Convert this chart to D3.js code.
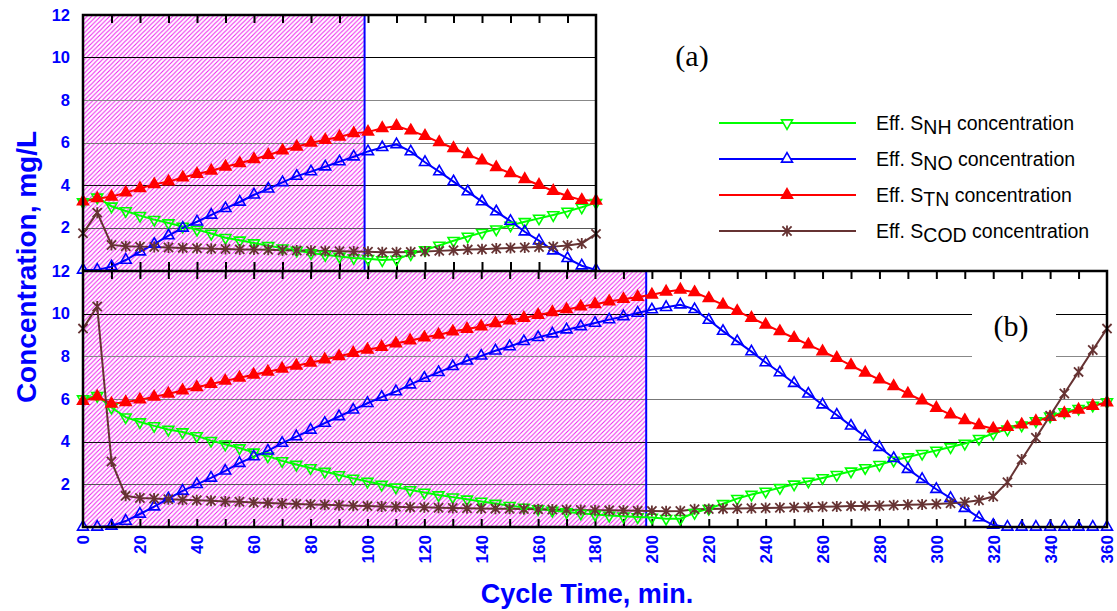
<!DOCTYPE html>
<html><head><meta charset="utf-8">
<script src="https://cdn.jsdelivr.net/npm/d3@7"></script>
<style>
html,body{margin:0;padding:0;background:#fff;}
svg{display:block;}
</style></head>
<body>
<svg id="chart" width="1117" height="611"></svg>
<script>
// ---------- DATA ----------
const timeA = [0,5,10,15,20,25,30,35,40,45,50,55,60,65,70,75,80,85,90,95,100,105,110,115,120,125,130,135,140,145,150,155,160,165,170,175,180];
const snhA = [3.2,3.42,3.0,2.78,2.56,2.37,2.21,2.05,1.9,1.72,1.52,1.4,1.27,1.14,1.03,0.92,0.8,0.72,0.64,0.57,0.53,0.47,0.5,0.75,0.94,1.16,1.38,1.58,1.76,1.92,2.1,2.27,2.43,2.59,2.76,2.95,3.17];
const snoA = [0,0,0.16,0.47,0.86,1.22,1.62,1.98,2.27,2.59,2.9,3.2,3.54,3.82,4.12,4.42,4.63,4.86,5.1,5.33,5.58,5.77,5.91,5.57,5.07,4.63,4.16,3.69,3.22,2.75,2.3,1.8,1.38,0.91,0.55,0.2,0];
const stnA = [3.22,3.37,3.45,3.64,3.84,4.03,4.16,4.35,4.52,4.67,4.86,5.02,5.21,5.41,5.62,5.8,5.99,6.12,6.27,6.43,6.5,6.67,6.78,6.56,6.31,6.01,5.73,5.44,5.15,4.83,4.55,4.27,4.0,3.72,3.48,3.29,3.26];
const scodA = [1.73,2.7,1.18,1.12,1.1,1.08,1.06,1.04,1.02,1.0,0.99,0.97,0.96,0.95,0.93,0.92,0.91,0.9,0.88,0.87,0.86,0.84,0.83,0.85,0.87,0.9,0.93,0.96,0.98,1.01,1.04,1.06,1.08,1.1,1.15,1.25,1.7];

const timeB = [0,5,10,15,20,25,30,35,40,45,50,55,60,65,70,75,80,85,90,95,100,105,110,115,120,125,130,135,140,145,150,155,160,165,170,175,180,185,190,195,200,205,210,215,220,225,230,235,240,245,250,255,260,265,270,275,280,285,290,295,300,305,310,315,320,325,330,335,340,345,350,355,360];
const snhB = [6.0,6.15,5.6,5.15,4.92,4.74,4.57,4.45,4.27,4.05,3.88,3.7,3.5,3.32,3.1,2.93,2.77,2.6,2.44,2.28,2.13,1.99,1.86,1.74,1.62,1.5,1.4,1.3,1.2,1.1,1.0,0.92,0.84,0.77,0.7,0.64,0.59,0.54,0.5,0.47,0.45,0.39,0.39,0.67,0.86,1.09,1.33,1.52,1.67,1.84,2.0,2.14,2.3,2.45,2.61,2.77,2.92,3.12,3.28,3.44,3.59,3.75,3.91,4.14,4.38,4.58,4.77,4.97,5.19,5.39,5.55,5.7,5.86];
const snoB = [0,0,0.05,0.28,0.61,0.95,1.33,1.69,2.0,2.3,2.63,2.99,3.3,3.57,3.93,4.24,4.55,4.87,5.18,5.49,5.8,6.09,6.35,6.67,6.98,7.25,7.53,7.79,8.02,8.26,8.46,8.7,8.89,9.06,9.25,9.4,9.56,9.72,9.87,10.03,10.19,10.3,10.42,10.2,9.7,9.18,8.7,8.22,7.71,7.24,6.74,6.24,5.73,5.25,4.74,4.24,3.74,3.22,2.71,2.24,1.77,1.35,0.88,0.44,0.09,0,0,0,0,0,0,0,0];
const stnB = [5.9,6.12,5.78,5.85,5.97,6.1,6.25,6.4,6.55,6.7,6.85,7.0,7.14,7.28,7.42,7.56,7.7,7.85,8.0,8.16,8.31,8.44,8.6,8.74,8.88,9.01,9.16,9.28,9.4,9.55,9.68,9.8,9.94,10.07,10.2,10.33,10.44,10.57,10.68,10.78,10.89,11.03,11.12,11.0,10.72,10.42,10.12,9.8,9.48,9.17,8.86,8.55,8.23,7.92,7.58,7.23,6.91,6.6,6.25,5.93,5.58,5.27,5.0,4.77,4.61,4.68,4.8,4.96,5.15,5.33,5.5,5.67,5.84];
const scodB = [9.3,10.34,3.07,1.46,1.36,1.34,1.3,1.28,1.25,1.23,1.2,1.18,1.15,1.13,1.1,1.08,1.06,1.04,1.02,1.0,0.98,0.96,0.95,0.93,0.92,0.9,0.89,0.88,0.87,0.86,0.85,0.84,0.83,0.82,0.81,0.8,0.79,0.78,0.77,0.76,0.75,0.74,0.75,0.83,0.84,0.86,0.87,0.88,0.89,0.9,0.92,0.93,0.95,0.96,0.98,0.99,1.0,1.02,1.04,1.06,1.08,1.11,1.16,1.25,1.43,2.1,3.16,4.18,5.22,6.26,7.27,8.3,9.3];

const yTicks = [2,4,6,8,10,12];
const xTickLabels = [0,20,40,60,80,100,120,140,160,180,200,220,240,260,280,300,320,340,360];
const aerobicEndA = 98.8;   // end of hatched phase (a)
const aerobicEndB = 198;    // end of hatched phase (b)

const seriesNames = ["SNH","SNO","STN","SCOD"];
const seriesSub = ["NH","NO","TN","COD"];
const seriesColors = ["#00ff00","#0000ff","#ff0000","#663333"];
const seriesMarkers = ["down","up","upfill","star"];

// ---------- DRAW ----------
const svg = d3.select("#chart");
const defs = svg.append("defs");
const pat = defs.append("pattern").attr("id","hatch").attr("patternUnits","userSpaceOnUse")
  .attr("width",4.5).attr("height",4.5);
pat.append("rect").attr("width",4.5).attr("height",4.5).attr("fill","#fff");
pat.append("path").attr("d","M0,4.5L4.5,0M-1,1L1,-1M3.5,5.5L5.5,3.5")
  .attr("stroke","#f020f0").attr("stroke-width",1.05);

svg.append("rect").attr("width",1117).attr("height",611).attr("fill","#fff");

const L = 83;
const xA = d3.scaleLinear().domain([0,180]).range([L,596]);
const yA = d3.scaleLinear().domain([0,12]).range([270,15]);
const xB = d3.scaleLinear().domain([0,360]).range([L,1107]);
const yB = d3.scaleLinear().domain([0,12]).range([527,271]);

const gridColor = {2:"#555",4:"#111",6:"#777",8:"#888",10:"#000"};

function symbolPath(type){
  if(type==="star") return "M0,-5.5V5.5M-4.6,-4.6L4.6,4.6M-4.6,4.6L4.6,-4.6";
  return d3.symbol().type(d3.symbolTriangle).size(52)();
}
function drawMarker(g, type, color, x, y, legend){
  const p = g.append("path").attr("d", symbolPath(type))
    .attr("transform", `translate(${x},${y})` + (type==="down" ? " rotate(180)" : ""))
    .attr("stroke", color).attr("stroke-width", type==="star"?1.8:1.6);
  if(type==="upfill") p.attr("fill", color);
  else if(type==="star") p.attr("fill","none");
  else p.attr("fill", legend ? "#fff" : "none");
}

function panel(x, y, times, data, endPhase, box){
  const g = svg.append("g");
  const [x0,x1] = x.range(); const [y0,y1] = [y(0), y(12)];
  g.append("rect").attr("x",x0).attr("y",y1).attr("width",x1-x0).attr("height",y0-y1).attr("fill","#fff");
  g.append("rect").attr("x",x0).attr("y",y1).attr("width",x(endPhase)-x0).attr("height",y0-y1).attr("fill","url(#hatch)");
  [2,4,6,8,10].forEach(v=>{
    g.append("line").attr("x1",x0).attr("x2",x1).attr("y1",Math.round(y(v))+0.5).attr("y2",Math.round(y(v))+0.5)
      .attr("stroke",gridColor[v]).attr("stroke-width",1.2);
  });
  if(box){
    g.append("rect").attr("x",box[0]).attr("y",box[1]).attr("width",box[2]).attr("height",box[3]).attr("fill","#fff");
  }
  g.append("line").attr("x1",x(endPhase)).attr("x2",x(endPhase)).attr("y1",y1).attr("y2",y0)
    .attr("stroke","#0000ff").attr("stroke-width",2);
  const tv = d3.range(10, x.domain()[1], 10);
  g.append("g").attr("transform",`translate(0,${y1})`)
    .call(d3.axisTop(x).tickValues(tv).tickSize(-8).tickFormat(""))
    .call(a=>a.select(".domain").remove())
    .call(a=>a.selectAll("line").attr("stroke","#000").attr("stroke-width",2));
  g.append("g").attr("transform",`translate(0,${y0})`)
    .call(d3.axisBottom(x).tickValues(tv).tickSize(-8).tickFormat(""))
    .call(a=>a.select(".domain").remove())
    .call(a=>a.selectAll("line").attr("stroke","#000").attr("stroke-width",2));
  data.forEach((vals,i)=>{
    const pts = times.map((t,k)=>[x(t), y(vals[k])]);
    g.append("path").attr("d", d3.line()(pts)).attr("fill","none")
      .attr("stroke",seriesColors[i]).attr("stroke-width",2);
  });
  data.forEach((vals,i)=>{
    times.forEach((t,k)=>drawMarker(g, seriesMarkers[i], seriesColors[i], x(t), y(vals[k]), false));
  });
  g.append("g").attr("transform",`translate(${x0},0)`)
    .call(d3.axisLeft(y).tickValues(yTicks).tickSize(0).tickPadding(13).tickFormat(d3.format("d")))
    .call(a=>a.select(".domain").remove())
    .call(a=>a.selectAll("text").attr("fill","#0000ff").attr("font-family","Liberation Sans, Arial, sans-serif")
      .attr("font-weight","bold").attr("font-size",16.5));
  return g;
}

const gA = panel(xA, yA, timeA, [snhA,snoA,stnA,scodA], aerobicEndA, null);
gA.append("path").attr("d",`M${L},270V15H596V270`).attr("fill","none").attr("stroke","#000").attr("stroke-width",2.5);

const gB = panel(xB, yB, timeB, [snhB,snoB,stnB,scodB], aerobicEndB, [972,290,84,84]);
gB.append("rect").attr("x",L).attr("y",271).attr("width",1107-L).attr("height",527-271)
  .attr("fill","none").attr("stroke","#000").attr("stroke-width",2.5);

svg.append("g").attr("transform","translate(0,527)")
  .call(d3.axisBottom(xB).tickValues(xTickLabels).tickSize(0).tickFormat(d3.format("d")))
  .call(a=>a.select(".domain").remove())
  .call(a=>a.selectAll("text").attr("fill","#0000ff").attr("font-family","Liberation Sans, Arial, sans-serif")
     .attr("font-weight","bold").attr("font-size",17)
     .attr("transform","rotate(-90)").attr("text-anchor","end").attr("x",-8).attr("y",0).attr("dy","0.35em"));

svg.append("text").attr("x",692).attr("y",66).attr("text-anchor","middle")
  .attr("font-family","Liberation Serif, Times New Roman, serif").attr("font-size",30).text("(a)");
svg.append("text").attr("x",1011).attr("y",336).attr("text-anchor","middle")
  .attr("font-family","Liberation Serif, Times New Roman, serif").attr("font-size",30).text("(b)");

svg.append("text").attr("transform","translate(36,267) rotate(-90)").attr("text-anchor","middle")
  .attr("fill","#0000ff").attr("font-family","Liberation Sans, Arial, sans-serif").attr("font-weight","bold")
  .attr("font-size",28).text("Concentration, mg/L");
svg.append("text").attr("x",587).attr("y",603).attr("text-anchor","middle")
  .attr("fill","#0000ff").attr("font-family","Liberation Sans, Arial, sans-serif").attr("font-weight","bold")
  .attr("font-size",27).text("Cycle Time, min.");

const legY = [123,159,195,231];
seriesNames.forEach((n,i)=>{
  const g = svg.append("g");
  g.append("line").attr("x1",719).attr("x2",856).attr("y1",legY[i]).attr("y2",legY[i])
    .attr("stroke",seriesColors[i]).attr("stroke-width",2);
  drawMarker(g, seriesMarkers[i], seriesColors[i], 787, legY[i], true);
  const t = g.append("text").attr("x",876).attr("y",legY[i]+7)
    .attr("font-family","Liberation Sans, Arial, sans-serif").attr("font-size",19.5).attr("fill","#000");
  t.append("tspan").text("Eff. S");
  t.append("tspan").attr("dy",4).text(seriesSub[i]);
  t.append("tspan").attr("dy",-4).text(" concentration");
});
</script>
</body></html>
